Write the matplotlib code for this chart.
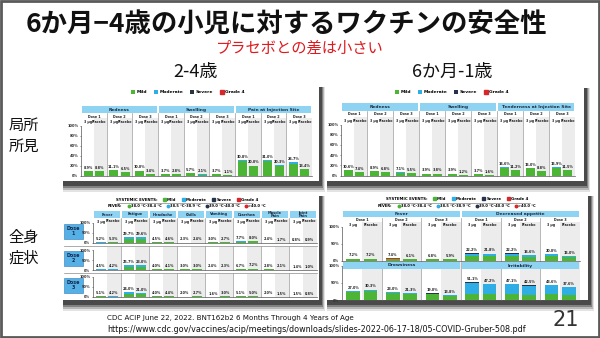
import numpy as np
import matplotlib.pyplot as plt
from matplotlib.patches import Rectangle, Patch
from matplotlib.lines import Line2D

plt.rcParams['font.family'] = ['Noto Sans CJK JP', 'DejaVu Sans']

# ---- values (bars ordered: group by group, 3 µg then placebo) ----
SEV_NAMES = ['Mild', 'Moderate', 'Severe', 'Grade 4']
FEVER_NAMES = ['38.0 °C-38.4 °C', '38.5 °C-38.9 °C', '39.0 °C-40.0 °C', '>40.0 °C']
DOSES = ['Dose 1', 'Dose 2', 'Dose 3']
ARMS = ['3 µg', 'Placebo']

# 2-4 years, local reactions
loc24_cats = ['Redness', 'Swelling', 'Pain at Injection Site']
loc24_mild = [8.3, 8.3, 10.1, 6.1, 9.2, 3.2, 3.5, 2.7, 5.4, 2.0, 3.5, 1.1, 28.3, 18.8, 29.0, 19.3, 23.9, 12.6]
loc24_mod = [0.6, 0.5, 1.0, 0.4, 0.8, 0.2, 0.2, 0.1, 0.3, 0.1, 0.2, 0.0, 2.5, 1.2, 2.0, 1.0, 2.8, 0.8]
loc24_sev = [0, 0, 0, 0, 0, 0, 0, 0, 0, 0, 0, 0, 0, 0, 0, 0, 0, 0]

# 6-23 months, local reactions
loc61_cats = ['Redness', 'Swelling', 'Tenderness at Injection Site']
loc61_mild = [10.1, 7.1, 8.3, 6.5, 4.1, 5.1, 3.8, 3.7, 3.7, 1.2, 3.5, 1.6, 15.1, 10.4, 13.8, 8.0, 14.3, 10.2]
loc61_mod = [0.5, 0.3, 0.6, 0.3, 3.0, 0.4, 0.1, 0.1, 0.2, 0.0, 0.2, 0.0, 1.5, 0.8, 1.2, 0.8, 1.6, 1.3]
loc61_sev = [0, 0, 0, 0, 0, 0, 0, 0, 0, 0, 0, 0, 0, 0, 0, 0, 0, 0]

# 2-4 years, systemic events (one row per dose)
sys24_cats = ['Fever', 'Fatigue', 'Headache', 'Chills', 'Vomiting', 'Diarrhea', 'Muscle\nPain', 'Joint\nPain']
sys24_mild = [[2.5, 2.7, 18.5, 19.0, 4.3, 4.4, 2.2, 2.3, 2.9, 2.6, 7.2, 7.6, 2.3, 1.6, 0.8, 0.9],
              [2.3, 2.2, 16.0, 14.5, 3.8, 3.9, 2.9, 2.9, 2.3, 2.2, 6.3, 6.8, 2.7, 2.0, 1.4, 1.0],
              [2.6, 2.2, 14.8, 13.0, 3.8, 4.2, 1.9, 2.6, 1.5, 2.9, 4.8, 4.7, 1.9, 1.4, 1.5, 0.8]]
sys24_mod = [[1.0, 1.0, 10.8, 10.2, 0.2, 0.2, 0.1, 0.1, 0.1, 0.1, 0.5, 0.4, 0.1, 0.1, 0.0, 0.0],
             [1.0, 0.9, 9.4, 8.2, 0.2, 0.2, 0.1, 0.1, 0.1, 0.1, 0.4, 0.4, 0.1, 0.1, 0.0, 0.0],
             [1.1, 0.9, 8.9, 7.8, 0.2, 0.2, 0.1, 0.1, 0.1, 0.1, 0.3, 0.3, 0.1, 0.1, 0.0, 0.0]]
sys24_sev = [[0.7, 0.6, 0.4, 0.4, 0, 0, 0, 0, 0, 0, 0, 0, 0, 0, 0, 0],
             [0.4, 0.4, 0.3, 0.3, 0, 0, 0, 0, 0, 0, 0, 0, 0, 0, 0, 0],
             [0.5, 0.4, 0.3, 0.2, 0, 0, 0, 0, 0, 0, 0, 0, 0, 0, 0, 0]]
sys24_g4 = [[1.0, 1.0, 0, 0, 0, 0, 0, 0, 0, 0, 0, 0, 0, 0, 0, 0],
            [0.8, 0.7, 0, 0, 0, 0, 0, 0, 0, 0, 0, 0, 0, 0, 0, 0],
            [0.9, 0.7, 0, 0, 0, 0, 0, 0, 0, 0, 0, 0, 0, 0, 0, 0]]

# 6-23 months, systemic events
sys61_top_cats = ['Fever', 'Decreased appetite']
sys61_top_mild = [5.4, 5.5, 5.6, 4.6, 5.2, 4.5, 15.0, 15.2, 15.8, 11.6, 14.0, 10.4]
sys61_top_mod = [0.8, 0.7, 0.8, 0.6, 0.6, 0.6, 6.8, 6.2, 6.1, 4.7, 5.7, 4.4]
sys61_top_sev = [0.3, 0.3, 0.3, 0.3, 0.3, 0.3, 0.4, 0.4, 0.3, 0.3, 0.3, 0.2]
sys61_top_g4 = [0.7, 0.7, 0.7, 0.6, 0.7, 0.5, 0, 0, 0, 0, 0, 0]
sys61_bot_cats = ['Drowsiness', 'Irritability']
sys61_bot_mild = [23.5, 26.4, 20.2, 18.6, 16.8, 12.0, 18.6, 17.5, 17.0, 16.0, 16.2, 14.6]
sys61_bot_mod = [3.3, 3.7, 2.7, 2.6, 2.1, 1.7, 31.3, 28.9, 29.0, 25.6, 26.2, 22.2]
sys61_bot_sev = [0.2, 0.2, 0.1, 0.1, 0.1, 0.1, 1.2, 0.8, 1.1, 0.9, 1.2, 0.8]

COLORS = ['#4cb535', '#2eaee4', '#28334a', '#d8262a']
HEAD = '#8ed3f1'
W, H = 600, 338

fig = plt.figure(figsize=(6, 3.38), dpi=100)
bg = fig.add_axes([0, 0, 1, 1])
bg.set_xlim(0, W)
bg.set_ylim(H, 0)
bg.axis('off')


def px_axes(x0, y0, x1, y1):
    ax = fig.add_axes([x0 / W, 1 - y1 / H, (x1 - x0) / W, (y1 - y0) / H])
    ax.set_facecolor('none')
    return ax


def panel_box(x0, y0, x1, y1):
    # soft shadow below / right, then the white scan
    for k, a in enumerate([0.12, 0.22, 0.35, 0.55]):
        d = 9 - 2 * k
        bg.add_patch(Rectangle((x0 + 1, y0 + 2), x1 - x0 + d * 0.6, y1 - y0 + d,
                               facecolor='#1e1e1e', alpha=a, lw=0))
    bg.add_patch(Rectangle((x0, y0), x1 - x0, y1 - y0, facecolor='white', lw=0))


def bar_axes(box, layers, n_groups, yticks, shade_top, sep_top):
    x0, y0, x1, y1 = box
    ax = px_axes(x0, y0, x1, y1)
    fy = lambda ypx: (y1 - ypx) / (y1 - y0)
    n = len(layers[0])
    idx = np.arange(n)
    xs = idx // 2 + 0.28 + 0.44 * (idx % 2)
    bottom = np.zeros(n)
    handles = []
    for vals, col in zip(layers, COLORS):
        handles.append(ax.bar(xs, vals, 0.34, bottom=bottom, color=col, lw=0, zorder=2))
        bottom = bottom + np.asarray(vals, dtype=float)
    for x, t in zip(xs, bottom):
        ax.annotate(f'{t:.1f}%', (x, t), xytext=(0, 0.8), textcoords='offset points',
                    ha='center', va='bottom', fontsize=2.4, fontweight='bold',
                    color='#222222', family='DejaVu Sans', zorder=3)
    tr = ax.get_xaxis_transform()
    for g in range(n_groups):
        ax.add_patch(Rectangle((g + 0.5, 0), 0.5, fy(shade_top), transform=tr,
                               facecolor='#ececec', lw=0, zorder=0, clip_on=False))
        if g > 0:
            ax.plot([g, g], [0, fy(sep_top)], transform=tr, color='#9a9a9a',
                    lw=0.5, clip_on=False, zorder=1)
    ax.set_xlim(0, n_groups)
    ax.set_ylim(0, 100)
    ax.set_xticks([])
    ax.set_yticks(yticks)
    ax.set_yticklabels([f'{t}%' for t in yticks], fontsize=2.6, fontweight='bold',
                       family='DejaVu Sans')
    ax.tick_params(axis='y', length=1, width=0.4, pad=0.8, colors='#333333')
    for s in ['top', 'right']:
        ax.spines[s].set_visible(False)
    for s in ['left', 'bottom']:
        ax.spines[s].set_linewidth(0.5)
        ax.spines[s].set_color('#555555')
    return ax, handles, fy


def headers(ax, fy, cats, per_cat, ytop, ybot, fs=3.2):
    tr = ax.get_xaxis_transform()
    for c, name in enumerate(cats):
        ax.add_patch(Rectangle((c * per_cat + 0.03, fy(ybot)), per_cat - 0.06, fy(ytop) - fy(ybot),
                               transform=tr, facecolor=HEAD, edgecolor='none', clip_on=False, zorder=1))
        ax.text(c * per_cat + per_cat / 2, fy((ytop + ybot) / 2), name, transform=tr, ha='center',
                va='center', fontsize=fs, fontweight='bold', family='DejaVu Sans',
                color='#1d2b40', linespacing=0.9, clip_on=False)


def sublabels(ax, fy, n_groups, y_dose, y_arm, doses=True):
    tr = ax.get_xaxis_transform()
    for g in range(n_groups):
        if doses:
            ax.text(g + 0.5, fy(y_dose), DOSES[g % 3], transform=tr, ha='center', va='center',
                    fontsize=2.4, fontweight='bold', family='DejaVu Sans', color='#222222')
        for a in range(2):
            ax.text(g + 0.28 + 0.44 * a, fy(y_arm), ARMS[a], transform=tr, ha='center',
                    va='center', fontsize=2.3, fontweight='bold', family='DejaVu Sans',
                    color='#222222')


def sev_legend(handles, cx, cy):
    fig.legend(handles, SEV_NAMES, ncol=4, loc='center', bbox_to_anchor=(cx / W, 1 - cy / H),
               frameon=False, prop={'family': 'DejaVu Sans', 'size': 3.2, 'weight': 'bold'},
               handlelength=0.9, handleheight=0.9, handletextpad=0.3, columnspacing=1.6,
               borderpad=0)


def sys_legends(cx, cy1, cy2):
    hs = [Patch(color='none')] + [Patch(color=c) for c in COLORS]
    fig.legend(hs, ['SYSTEMIC EVENTS:'] + SEV_NAMES, ncol=5, loc='center',
               bbox_to_anchor=(cx / W, 1 - cy1 / H), frameon=False,
               prop={'family': 'DejaVu Sans', 'size': 2.8, 'weight': 'bold'},
               handlelength=0.8, handleheight=0.8, handletextpad=0.3, columnspacing=1.4, borderpad=0)
    hf = [Line2D([], [], ls='none')] + [Line2D([], [], ls='none', marker='o', ms=1.8, color=c)
                                        for c in COLORS]
    fig.legend(hf, ['FEVER:'] + FEVER_NAMES, ncol=5, loc='center',
               bbox_to_anchor=(cx / W, 1 - cy2 / H), frameon=False,
               prop={'family': 'DejaVu Sans', 'size': 2.6, 'weight': 'bold'},
               handlelength=0.6, handletextpad=0.3, columnspacing=1.4, borderpad=0)


# ---- slide frame and texts ----
bg.add_patch(Rectangle((1, 1), W - 2, H - 2, facecolor='white', edgecolor='#5a5a5a', lw=2))
bg.text(286, 25, '6か月−4歳の小児に対するワクチンの安全性', ha='center', va='center',
        fontsize=19, fontweight='bold', color='#111111')
bg.text(300, 48, 'プラセボとの差は小さい', ha='center', va='center', fontsize=11,
        color='#e0191e')
bg.text(196, 72, '2-4歳', ha='center', va='center', fontsize=13, color='#111111')
bg.text(452, 72, '6か月-1歳', ha='center', va='center', fontsize=13, color='#111111')
bg.text(24, 136, '局所\n所見', ha='center', va='center', fontsize=11, linespacing=1.25,
        color='#111111')
bg.text(24, 248, '全身\n症状', ha='center', va='center', fontsize=11, linespacing=1.25,
        color='#111111')
foot = ['Liberation Sans Narrow', 'DejaVu Sans']
bg.text(107, 318, 'CDC ACIP June 22, 2022. BNT162b2 6 Months Through 4 Years of Age',
        ha='left', va='center', fontsize=5.1, family=foot, color='#111111')
bg.text(107, 330, 'https://www.cdc.gov/vaccines/acip/meetings/downloads/slides-2022-06-17-18/05-COVID-Gruber-508.pdf',
        ha='left', va='center', fontsize=5.8, family=foot, color='#111111')
bg.text(566, 320, '21', ha='center', va='center', fontsize=15, family='DejaVu Sans',
        color='#333333')

for box in [(62, 85, 319, 181), (326, 86, 584, 181), (62, 194, 319, 300), (326, 194, 588, 300)]:
    panel_box(*box)

# ---- top-left: 2-4 years local ----
ax, hs, fy = bar_axes((81, 125.5, 312, 175.5), [loc24_mild, loc24_mod, loc24_sev], 9,
                      [0, 20, 40, 60, 80, 100], 118, 113)
headers(ax, fy, loc24_cats, 3, 106, 113)
sublabels(ax, fy, 9, 116.5, 121.8)
sev_legend(hs + [Patch(color=COLORS[3])], 188, 92)

# ---- top-right: 6-23 months local ----
ax, hs, fy = bar_axes((341, 124.5, 575, 175.5), [loc61_mild, loc61_mod, loc61_sev], 9,
                      [0, 20, 40, 60, 80, 100], 117, 110.5)
headers(ax, fy, loc61_cats, 3, 103, 110.5)
sublabels(ax, fy, 9, 114, 121)
sev_legend(hs + [Patch(color=COLORS[3])], 452, 92)

# ---- bottom-left: 2-4 years systemic, three dose rows ----
rows = [(223, 243), (250, 270), (277, 297)]
for r, (ya, yb) in enumerate(rows):
    ax, hs, fy = bar_axes((93, ya, 317, yb),
                          [sys24_mild[r], sys24_mod[r], sys24_sev[r], sys24_g4[r]], 8,
                          [0, 50, 100], ya - 3 if r else 219, ya - 4 if r else 218)
    if r == 0:
        headers(ax, fy, sys24_cats, 1, 211, 218, fs=2.6)
        sublabels(ax, fy, 8, 0, 221.5, doses=False)
    bg.add_patch(Rectangle((64, ya + 0.5), 19, 15, facecolor='#55b0e6', edgecolor='#2c78b8',
                           lw=0.4))
    bg.text(73.5, ya + 8, f'Dose\n{r + 1}', ha='center', va='center', fontsize=3.4,
            fontweight='bold', family='DejaVu Sans', color='#13294b', linespacing=1.1)
    if r < 2:
        bg.plot([64, 317], [yb + 3, yb + 3], color='#8a8a8a', lw=0.5)
sys_legends(185, 200, 206.5)
bg.plot([117, 253], [203, 203], color='#666666', lw=0.4)

# ---- bottom-right: 6-23 months systemic ----
ax, hs, fy = bar_axes((342, 227, 580, 261),
                      [sys61_top_mild, sys61_top_mod, sys61_top_sev, sys61_top_g4], 6,
                      [0, 50, 100], 222, 217.5)
headers(ax, fy, sys61_top_cats, 3, 211, 217.5, fs=3.2)
sublabels(ax, fy, 6, 219.8, 225)
ax, hs, fy = bar_axes((342, 265.7, 580, 300),
                      [sys61_bot_mild, sys61_bot_mod, sys61_bot_sev], 6,
                      [0, 50, 100], 262, 262)
headers(ax, fy, sys61_bot_cats, 3, 262, 269, fs=3.2)
sys_legends(455, 199, 206)
bg.plot([380, 530], [202.5, 202.5], color='#666666', lw=0.4)

fig.savefig('out.png', dpi=100)
